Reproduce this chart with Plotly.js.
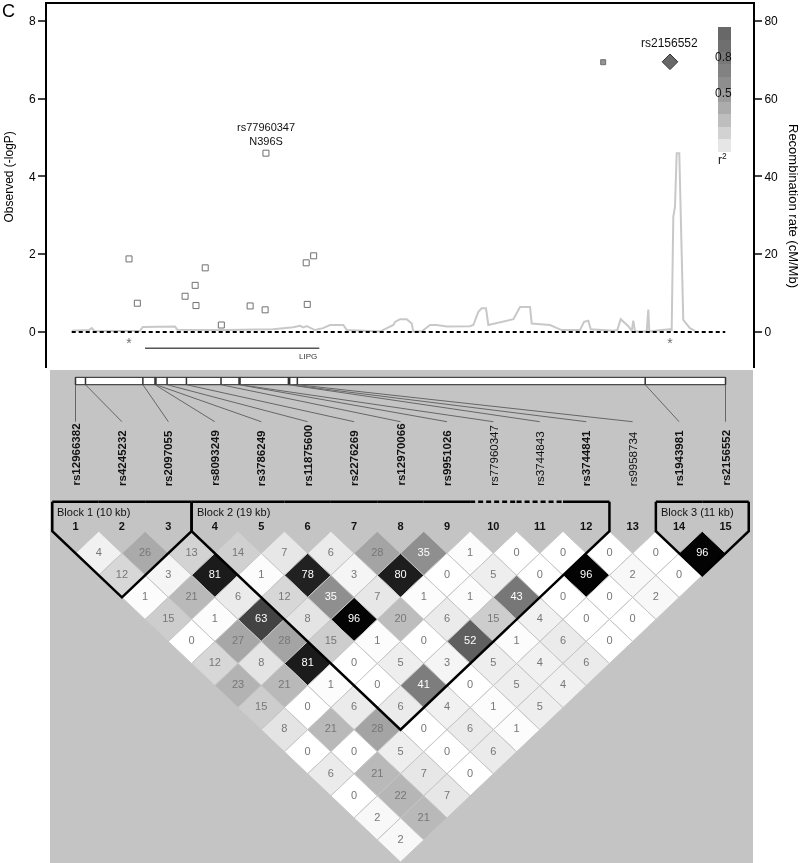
<!DOCTYPE html>
<html>
<head>
<meta charset="utf-8">
<script src="https://cdn.plot.ly/plotly-3.0.1.min.js"></script>
<style>
body { margin: 0; background: #fff; }
#plot1 { width: 800px; height: 863px; filter: grayscale(1); }
</style>
</head>
<body>
<div id="plot1"></div>
<script>
// SNPs of the region, in map order (positions in kb from the first SNP)
var snpIds = ['rs12966382', 'rs4245232', 'rs2097055', 'rs8093249', 'rs3786249',
  'rs11875600', 'rs2276269', 'rs12970066', 'rs9951026', 'rs77960347',
  'rs3744843', 'rs3744841', 'rs9958734', 'rs1943981', 'rs2156552'];
var snpKb = [0, 1.43, 9.64, 11.37, 11.51, 13.1, 15.87, 20.82, 23.4, 23.54,
  30.46, 30.64, 31.74, 81.51, 93.0];
var snpLogP = [1.88, 0.74, 0.92, 1.20, 0.68, 1.65, 0.18, 0.67, 0.57, 4.60,
  1.78, 0.71, 1.96, 6.94, 6.95];
// r2 with the index SNP (rs2156552)
var snpR2 = [0, 0, 0, 0, 0, 0, 0, 0, 0, 0, 0, 0, 0, 0.96, 1];

// recombination rate (cM/Mb)
var recKb = [-9.85, -6.9, -6.41, -5.9, 1.89, 2.36, 7.91, 8.30, 16.80, 24.75,
  28.24, 29.40, 29.96, 30.55, 31.98, 33.35, 34.55, 36.84, 37.43, 43.15,
  45.44, 45.73, 46.59, 47.74, 48.60, 48.87, 50.32, 51.75, 52.90, 54.62,
  58.62, 59.19, 60.05, 60.63, 61.37, 61.77, 66.07, 67.22, 68.94, 69.23,
  72.37, 73.52, 74.38, 77.53, 78.22, 78.96, 79.37, 83.26, 83.94, 84.53,
  85.84, 86.42, 86.69, 86.99, 89.00, 89.27, 89.44, 91.58, 93.00, 93.29,
  93.57, 93.86, 94.15, 94.60, 95.18, 95.28, 96.43, 97.30];
var recRate = [0.3, 0.5, 1.0, 0.2, 0.3, 1.3, 1.4, 0.6, 0.5, 0.7,
  1.2, 1.6, 1.2, 1.5, 0.5, 1.0, 1.8, 1.8, 0.5, 0.1,
  1.8, 2.6, 3.3, 3.3, 2.2, 0.1, 0.1, 1.8, 1.8, 1.4,
  1.5, 1.8, 5.2, 6.1, 6.1, 1.8, 3.3, 6.4, 6.4, 2.2,
  1.8, 1.0, 0.5, 0.5, 2.6, 2.9, 0.7, 0.3, 0.5, 3.3,
  1.5, 0.3, 2.9, 0.1, 0.1, 5.8, 0.1, 0.5, 0.7, 0.5,
  29.7, 32.2, 46.0, 46.0, 3.5, 3.1, 1.0, 0.3];
var regionKb = [-9.85, 102.5];

var geneName = 'LIPG';
var geneKb = [2.75, 32.71];

// pairwise r2 x100, row k holds pairs (i, i+k)
var ldRows = [
  [4, 26, 13, 14, 7, 6, 28, 35, 1, 0, 0, 0, 0, 96],
  [12, 3, 81, 1, 78, 3, 80, 0, 5, 0, 96, 2, 0],
  [1, 21, 6, 12, 35, 7, 1, 1, 43, 0, 0, 2],
  [15, 1, 63, 8, 96, 20, 6, 15, 4, 0, 0],
  [0, 27, 28, 15, 1, 0, 52, 1, 6, 0],
  [12, 8, 81, 0, 5, 3, 5, 4, 6],
  [23, 21, 1, 0, 41, 0, 5, 4],
  [15, 0, 6, 6, 4, 1, 5],
  [8, 21, 28, 0, 6, 1],
  [0, 0, 5, 0, 6],
  [6, 21, 7, 0],
  [0, 22, 7],
  [2, 21],
  [2]
];
var blockFirst = [1, 4, 14];
var blockLast = [3, 12, 15];
var blockNames = ['Block 1 (10 kb)', 'Block 2 (19 kb)', 'Block 3 (11 kb)'];
var droppedSnps = [10, 11, 13];

var cbGrays = ['#e6e6e6', '#d2d2d2', '#bebebe', '#acacac', '#9c9c9c',
  '#8e8e8e', '#828282', '#787878', '#6f6f6f', '#686868'];
var cbLabels = ['0.8', '0.5'];

var FONT = 'Liberation Sans, Arial, Helvetica, sans-serif';
var nSnp = snpIds.length;

function stripPos(kb) {
  return 1 + (kb - snpKb[0]) / (snpKb[nSnp - 1] - snpKb[0]) * (nSnp - 1);
}
function ldColor(v) {
  var g = Math.round(255 * Math.pow(1 - v / 100, 1.35));
  return 'rgb(' + g + ',' + g + ',' + g + ')';
}
function markerFill(r2) {
  if (r2 < 0.1) return '#ffffff';
  return cbGrays[Math.min(9, Math.floor(r2 * 10))];
}

var scale = [];
cbGrays.forEach(function (c, k) {
  scale.push([k / 10, c]);
  scale.push([(k + 1) / 10, c]);
});

var data = [];

// top panel
data.push({
  x: recKb, y: recRate, xaxis: 'x', yaxis: 'y', mode: 'lines',
  line: {color: '#c8c8c8', width: 2}, hoverinfo: 'skip', showlegend: false
});
data.push({
  x: regionKb, y: [0, 0], xaxis: 'x', yaxis: 'y2', mode: 'lines',
  line: {color: '#000', width: 2, dash: '4px,3px'}, hoverinfo: 'skip', showlegend: false
});
data.push({
  x: geneKb, y: [-0.42, -0.42], xaxis: 'x', yaxis: 'y2', mode: 'lines',
  line: {color: '#555', width: 1.5}, hoverinfo: 'skip', showlegend: false
});
data.push({
  x: [snpKb[0], snpKb[nSnp - 1]], y: [-0.33, -0.33], xaxis: 'x', yaxis: 'y2',
  mode: 'text', text: ['*', '*'], textfont: {family: FONT, size: 14, color: '#707070'},
  hoverinfo: 'skip', showlegend: false
});
data.push({
  x: snpKb.slice(0, nSnp - 1), y: snpLogP.slice(0, nSnp - 1), xaxis: 'x', yaxis: 'y2',
  mode: 'markers', text: snpIds.slice(0, nSnp - 1),
  marker: {symbol: 'square', size: snpR2.slice(0, nSnp - 1).map(function (r) { return r > 0.5 ? 5 : 6; }),
    color: snpR2.slice(0, nSnp - 1).map(markerFill),
    line: {color: '#333', width: 1}},
  showlegend: false
});
data.push({
  x: [snpKb[nSnp - 1]], y: [snpLogP[nSnp - 1]], xaxis: 'x', yaxis: 'y2',
  mode: 'markers', text: [snpIds[nSnp - 1]],
  marker: {symbol: 'diamond', size: 12, color: [snpR2[nSnp - 1]], cmin: 0, cmax: 1,
    colorscale: scale, line: {color: '#333', width: 1},
    colorbar: {x: 717.7 / 800, xanchor: 'left', xpad: 0, y: 1 - 26.7 / 863, yanchor: 'top',
      ypad: 0, len: 125, lenmode: 'pixels', thickness: 13, thicknessmode: 'pixels',
      outlinewidth: 0, showticklabels: false, ticks: ''}},
  showlegend: false
});

// bottom panel (x2 = marker index, y3 = pair distance, downwards)
var blockTop = -1.34, blockText = -0.887, markerRow = -0.193;
var labelBase = -2.007, labelTop = -4.968, barTop = -6.98, barBot = -6.646;

var cellX = [], cellY = [], cellText = [], cellColor = [];
ldRows.forEach(function (row, r) {
  var dist = r + 1;
  row.forEach(function (v, k) {
    var i = k + 1, j = i + dist, cx = (i + j) / 2;
    data.push({
      x: [cx - 0.5, cx, cx + 0.5, cx, cx - 0.5],
      y: [dist, dist - 1, dist, dist + 1, dist],
      xaxis: 'x2', yaxis: 'y3', mode: 'lines', fill: 'toself',
      fillcolor: ldColor(v), line: {color: '#c6c6c6', width: 1},
      hoverinfo: 'skip', showlegend: false
    });
    cellX.push(cx); cellY.push(dist); cellText.push(String(v));
    cellColor.push(v >= 30 ? '#ffffff' : '#777777');
  });
});
data.push({
  x: cellX, y: cellY, text: cellText, xaxis: 'x2', yaxis: 'y3', mode: 'text',
  textfont: {family: FONT, size: 11, color: cellColor}, hoverinfo: 'skip', showlegend: false
});

// block outlines
var solidX = [], solidY = [], dashX = [], dashY = [];
blockFirst.forEach(function (a, b_i) {
  var b = blockLast[b_i];
  solidX.push(a - 0.5, a - 0.5, (a + b) / 2, b + 0.5, b + 0.5, null);
  solidY.push(blockTop, 0, b - a + 1, 0, blockTop, null);
  for (var m = a; m <= b; m++) {
    if (droppedSnps.indexOf(m) >= 0) {
      dashX.push(m - 0.5, m + 0.5, null); dashY.push(blockTop, blockTop, null);
    } else {
      solidX.push(m - 0.5, m + 0.5, null); solidY.push(blockTop, blockTop, null);
    }
  }
});
data.push({
  x: solidX, y: solidY, xaxis: 'x2', yaxis: 'y3', mode: 'lines',
  line: {color: '#000', width: 2.5}, hoverinfo: 'skip', showlegend: false
});
data.push({
  x: dashX, y: dashY, xaxis: 'x2', yaxis: 'y3', mode: 'lines',
  line: {color: '#000', width: 2.5, dash: '5px,3px'}, hoverinfo: 'skip', showlegend: false
});

// marker numbers
var idx = snpIds.map(function (s, k) { return k + 1; });
data.push({
  x: idx, y: idx.map(function () { return markerRow; }),
  text: idx.map(function (k) { return '<b>' + k + '</b>'; }),
  xaxis: 'x2', yaxis: 'y3', mode: 'text',
  textfont: {family: FONT, size: 11, color: '#111'}, hoverinfo: 'skip', showlegend: false
});

// SNP map strip
var s0 = stripPos(snpKb[0]), s1 = stripPos(snpKb[nSnp - 1]);
data.push({
  x: [s0, s1, s1, s0, s0], y: [barTop, barTop, barBot, barBot, barTop],
  xaxis: 'x2', yaxis: 'y3', mode: 'lines', fill: 'toself', fillcolor: '#fff',
  line: {color: '#222', width: 1}, hoverinfo: 'skip', showlegend: false
});
var tickX = [], tickY = [], linkX = [], linkY = [];
snpKb.forEach(function (kb, k) {
  var s = stripPos(kb);
  tickX.push(s, s, null); tickY.push(barTop, barBot, null);
  linkX.push(s, k + 1, null); linkY.push(barBot, labelTop, null);
});
data.push({
  x: linkX, y: linkY, xaxis: 'x2', yaxis: 'y3', mode: 'lines',
  line: {color: '#666', width: 1}, hoverinfo: 'skip', showlegend: false
});
data.push({
  x: tickX, y: tickY, xaxis: 'x2', yaxis: 'y3', mode: 'lines',
  line: {color: '#333', width: 1.5}, hoverinfo: 'skip', showlegend: false
});

var annotations = [];
snpIds.forEach(function (id, k) {
  var bold = droppedSnps.indexOf(k + 1) < 0;
  annotations.push({
    xref: 'x2', yref: 'y3', x: k + 1, y: labelBase, showarrow: false,
    text: bold ? '<b>' + id + '</b>' : id, textangle: -90,
    xanchor: 'center', yanchor: 'bottom', borderpad: 0,
    font: {family: FONT, size: 11.5, color: '#111'}
  });
});
blockFirst.forEach(function (a, b_i) {
  annotations.push({
    xref: 'x2', yref: 'y3', x: a - 0.5, y: blockText, xshift: 3, showarrow: false,
    text: blockNames[b_i], xanchor: 'left', yanchor: 'middle',
    font: {family: FONT, size: 11, color: '#111'}
  });
});

// top panel texts
annotations.push({
  xref: 'x', yref: 'y2', x: snpKb[9], y: snpLogP[9], yshift: 4, showarrow: false,
  text: snpIds[9] + '<br>N396S', xanchor: 'center', yanchor: 'bottom',
  font: {family: FONT, size: 11, color: '#111'}
});
annotations.push({
  xref: 'x', yref: 'y2', x: snpKb[nSnp - 1], y: snpLogP[nSnp - 1], yshift: 10, showarrow: false,
  text: snpIds[nSnp - 1], xanchor: 'center', yanchor: 'bottom',
  font: {family: FONT, size: 12, color: '#111'}
});
annotations.push({
  xref: 'x', yref: 'y2', x: geneKb[1], y: -0.64, showarrow: false,
  text: geneName, xanchor: 'right', yanchor: 'middle',
  font: {family: FONT, size: 8, color: '#333'}
});
annotations.push({
  xref: 'paper', yref: 'paper', x: 723.5 / 800, y: 1 - 56.7 / 863, showarrow: false,
  text: cbLabels[0], xanchor: 'center', yanchor: 'middle',
  font: {family: FONT, size: 12, color: '#111'}
});
annotations.push({
  xref: 'paper', yref: 'paper', x: 723.5 / 800, y: 1 - 93.3 / 863, showarrow: false,
  text: cbLabels[1], xanchor: 'center', yanchor: 'middle',
  font: {family: FONT, size: 12, color: '#111'}
});
annotations.push({
  xref: 'paper', yref: 'paper', x: 722 / 800, y: 1 - 159 / 863, showarrow: false,
  text: 'r<sup>2</sup>', xanchor: 'center', yanchor: 'middle',
  font: {family: FONT, size: 12, color: '#111'}
});
annotations.push({
  xref: 'paper', yref: 'paper', x: 8 / 800, y: 1 - 177.5 / 863, showarrow: false,
  text: 'Observed (-logP)', textangle: -90, xanchor: 'center', yanchor: 'middle',
  font: {family: FONT, size: 12, color: '#000'}
});
annotations.push({
  xref: 'paper', yref: 'paper', x: 794 / 800, y: 1 - 206 / 863, showarrow: false,
  text: 'Recombination rate (cM/Mb)', textangle: 90, xanchor: 'center', yanchor: 'middle',
  font: {family: FONT, size: 13, color: '#000'}
});
annotations.push({
  xref: 'paper', yref: 'paper', x: 0, y: 1 - 11 / 863, showarrow: false,
  text: 'C', xanchor: 'left', yanchor: 'middle',
  font: {family: FONT, size: 18, color: '#000'}
});

var layout = {
  width: 800, height: 863,
  margin: {l: 0, r: 0, t: 0, b: 0},
  paper_bgcolor: '#fff', plot_bgcolor: 'rgba(0,0,0,0)',
  font: {family: FONT, size: 12, color: '#000'},
  showlegend: false, hovermode: false,
  xaxis: {domain: [47 / 800, 753 / 800], range: [-14.1, 107.27], anchor: 'y', side: 'top',
    showline: true, linecolor: '#000', linewidth: 2, ticks: '', showticklabels: false,
    showgrid: false, zeroline: false},
  yaxis: {domain: [1 - 368 / 863, 1 - 4 / 863], range: [-9.26, 84.37], anchor: 'x', side: 'right',
    tickvals: [0, 20, 40, 60, 80], ticks: 'outside', ticklen: 7, tickwidth: 2,
    showline: true, linecolor: '#000', linewidth: 2, showgrid: false, zeroline: false,
    tickfont: {size: 12}},
  yaxis2: {overlaying: 'y', anchor: 'x', side: 'left', range: [-0.926, 8.437],
    tickvals: [0, 2, 4, 6, 8], ticks: 'outside', ticklen: 7, tickwidth: 2,
    showline: true, linecolor: '#000', linewidth: 2, showgrid: false, zeroline: false,
    tickfont: {size: 12}},
  xaxis2: {domain: [50 / 800, 753 / 800], anchor: 'y3', range: [0.4508, 15.592], visible: false},
  yaxis3: {domain: [0, 1 - 370 / 863], anchor: 'x2', range: [15.045, -7.313], visible: false},
  shapes: [{type: 'rect', xref: 'paper', yref: 'paper', x0: 50 / 800, x1: 753 / 800,
    y0: 0, y1: 1 - 370 / 863, fillcolor: '#c4c4c4', line: {width: 0}, layer: 'below'}],
  annotations: annotations
};

Plotly.newPlot('plot1', data, layout, {displayModeBar: false, staticPlot: true});
</script>
</body>
</html>
